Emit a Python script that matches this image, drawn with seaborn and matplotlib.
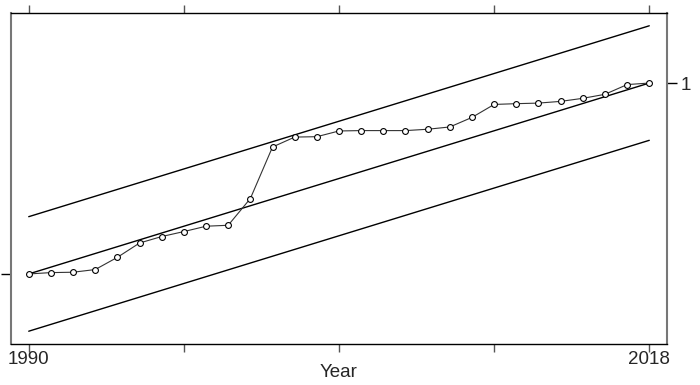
import numpy as np
import pandas as pd
import seaborn as sns
import matplotlib
matplotlib.use("Agg")
import matplotlib.pyplot as plt

# Series (normalised: first year 0, last year 1)
years = list(range(1990, 2019))
values = [0.000, 0.007, 0.009, 0.023, 0.087, 0.162, 0.196, 0.222, 0.250, 0.255,
          0.395, 0.665, 0.717, 0.719, 0.749, 0.751, 0.751, 0.751, 0.758, 0.770,
          0.820, 0.888, 0.892, 0.895, 0.904, 0.920, 0.941, 0.992, 1.000]

# Straight reference line from first to last value, with a band around it
trend_years = [1990, 2018]
trend_values = [0.0, 1.0]
band = 0.3

x_ticks = [1990, 1997, 2004, 2011, 2018]
x_labels = ["1990", "", "", "", "2018"]
y_ticks = [0, 1]
y_labels = ["0", "1"]

df = pd.DataFrame({"Year": years, "value": values})
trend = pd.DataFrame({"Year": trend_years, "mid": trend_values})
trend["upper"] = trend["mid"] + band
trend["lower"] = trend["mid"] - band

sns.set_style("white")
plt.rcParams["font.family"] = ["Liberation Sans", "DejaVu Sans"]

fig = plt.figure(figsize=(7, 3.85), dpi=100)
ax = fig.add_axes([11 / 700, 1 - 344 / 385, 656 / 700, 331 / 385])

for col in ["upper", "mid", "lower"]:
    sns.lineplot(data=trend, x="Year", y=col, ax=ax, color="black", linewidth=1.0)

sns.lineplot(data=df, x="Year", y="value", ax=ax, color="#333333", linewidth=0.8,
             marker="o", markersize=4.2, markerfacecolor="white",
             markeredgecolor="black", markeredgewidth=0.8)

ax.set_xlim(1989.2, 2018.8)
ax.set_ylim(-0.367, 1.367)

ax.set_xticks(x_ticks)
ax.set_xticklabels(x_labels)
ax.set_yticks(y_ticks)
ax.set_yticklabels(y_labels)
ax.tick_params(axis="x", which="both", top=True, bottom=True, direction="out",
               length=6, width=1, color="#555555", labelsize=13.5, pad=-1)
ax.tick_params(axis="y", which="both", left=True, right=True, labelleft=True,
               labelright=True, direction="out", length=7, width=1,
               color="black", labelsize=13.5, pad=3)

# lattice style: the 0 tick only on the left (its label falls off the page),
# the 1 tick only on the right
yt = ax.yaxis.get_major_ticks()
yt[0].tick2line.set_visible(False)
yt[0].label2.set_visible(False)
yt[0].label1.set_visible(False)
yt[1].tick1line.set_visible(False)
yt[1].label1.set_visible(False)

ax.set_xlabel("Year", fontsize=13.5)
ax.xaxis.set_label_coords(0.5, -0.06)
ax.set_ylabel("")

for side in ["top", "bottom"]:
    ax.spines[side].set_color("black")
    ax.spines[side].set_linewidth(1.0)
for side in ["left", "right"]:
    ax.spines[side].set_color("#777777")
    ax.spines[side].set_linewidth(1.5)

fig.savefig("out.png", dpi=100)
